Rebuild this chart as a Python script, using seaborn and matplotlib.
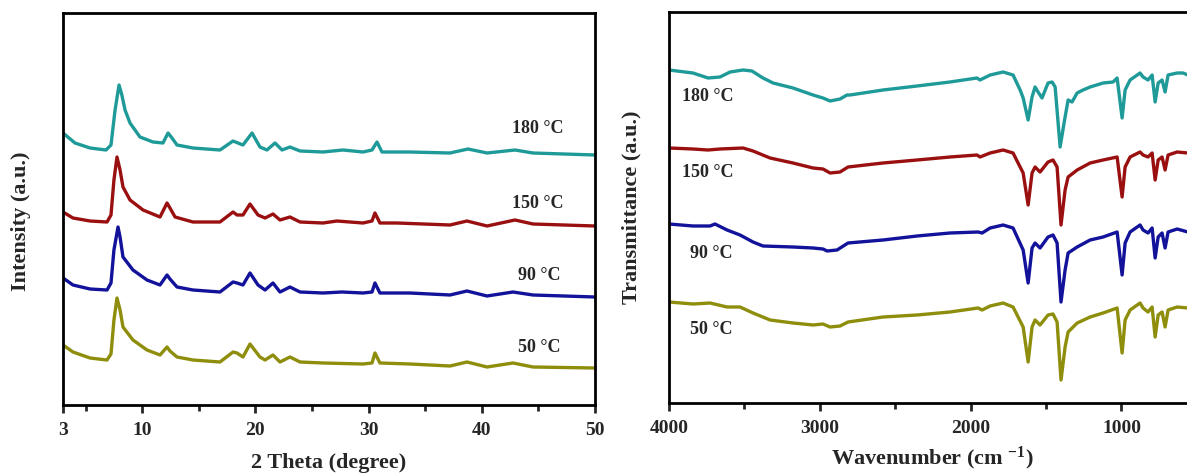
import matplotlib
matplotlib.use("Agg")
import matplotlib.pyplot as plt
import seaborn as sns
import pandas as pd
from matplotlib.ticker import FixedLocator

# ---------------- XRD data (2 theta in degree, intensity in a.u.) ----------------
xrd_labels = ["180 °C", "150 °C", "90 °C", "50 °C"]

xrd_180_x = [3.0, 4.06, 5.39, 6.8, 7.24, 7.6, 7.95, 8.2, 8.48, 8.92, 9.8, 10.95, 11.83, 12.28, 12.63,
             13.07, 14.48, 16.87, 18.02, 18.9, 19.7, 20.4, 21.02, 21.73, 22.35, 23.05, 23.94, 25.97,
             27.73, 29.5, 30.3, 30.74, 31.18, 33.65, 37.19, 38.78, 40.46, 42.93, 44.52, 50.0]
xrd_180_y = [272, 262, 257, 255, 260, 295, 320, 310, 295, 282, 268, 263, 262, 272, 267,
             260, 257, 255, 264, 260, 272, 258, 255, 262, 255, 258, 254, 253,
             255, 253, 255, 263, 253, 253, 252, 256, 252, 255, 252, 250]

xrd_150_x = [3.0, 3.88, 5.39, 6.89, 7.24, 7.5, 7.77, 8.04, 8.3, 8.92, 10.07, 11.57, 12.19, 12.45,
             12.9, 14.48, 16.87, 18.02, 18.37, 18.9, 19.52, 20.23, 20.85, 21.55, 22.17, 23.05,
             23.94, 25.97, 27.2, 29.5, 30.3, 30.56, 31.0, 32.5, 37.19, 38.69, 40.46, 42.93, 44.52, 50.0]
xrd_150_y = [193, 187, 184, 183, 190, 225, 248, 235, 218, 205, 195, 188, 202, 197,
             188, 183, 183, 193, 190, 190, 201, 190, 187, 191, 185, 188,
             183, 182, 184, 182, 184, 192, 182, 182, 180, 184, 179, 185, 181, 179]

xrd_90_x = [3.0, 3.88, 5.39, 6.89, 7.24, 7.5, 7.86, 8.04, 8.3, 9.18, 10.42, 11.57, 12.19, 12.45,
            13.07, 14.48, 16.87, 18.02, 18.37, 18.9, 19.52, 20.23, 20.85, 21.55, 22.17, 23.05,
            23.94, 25.97, 27.65, 29.5, 30.3, 30.56, 31.0, 33.65, 37.19, 38.69, 40.46, 42.75, 44.52, 50.0]
xrd_90_y = [127, 120, 116, 115, 122, 155, 178, 168, 148, 135, 125, 120, 130, 126,
            118, 115, 113, 123, 122, 120, 132, 120, 115, 122, 113, 118,
            113, 112, 113, 112, 113, 122, 112, 112, 110, 114, 109, 113, 110, 108]

xrd_50_x = [3.0, 3.88, 5.39, 6.89, 7.24, 7.5, 7.77, 8.04, 8.3, 9.18, 10.42, 11.57, 12.19, 12.45,
            13.07, 14.48, 16.87, 18.02, 18.37, 18.9, 19.52, 20.4, 20.85, 21.55, 22.17, 23.05,
            23.94, 25.97, 29.5, 30.3, 30.56, 31.0, 33.65, 37.19, 38.69, 40.46, 42.75, 44.52, 50.0]
xrd_50_y = [60, 53, 47, 45, 51, 85, 107, 95, 78, 65, 55, 50, 58, 54,
            48, 45, 43, 53, 52, 48, 61, 48, 45, 50, 43, 48,
            43, 42, 41, 42, 52, 42, 41, 39, 43, 38, 42, 38, 37]

xrd_ticks = [3, 10, 20, 30, 40, 50]

# ---------------- FTIR data (wavenumber in cm-1, transmittance in a.u.) ----------------
ftir_labels = ["180 °C", "150 °C", "90 °C", "50 °C"]

ftir_180_x = [4000, 3841, 3741, 3662, 3595, 3509, 3450, 3377, 3310, 3178, 3045, 2979, 2932, 2866,
              2820, 2800, 2581, 2355, 2137, 1958, 1938, 1871, 1785, 1719, 1672, 1652, 1619, 1593,
              1573, 1553, 1527, 1487, 1460, 1440, 1407, 1374, 1354, 1328, 1294, 1255, 1208, 1122,
              1056, 1029, 996, 976, 943, 877, 857, 824, 797, 777, 757, 731, 711, 691, 631, 592, 560]
ftir_180_y = [333, 330, 325, 326, 331, 333, 332, 325, 320, 315, 308, 305, 302, 304,
              308, 308, 313, 317, 321, 325, 323, 328, 331, 328, 313, 305, 283, 306,
              316, 311, 305, 320, 321, 316, 256, 286, 303, 301, 310, 313, 316, 320,
              321, 325, 285, 313, 323, 330, 326, 323, 328, 301, 320, 323, 311, 328, 330, 330, 328]

ftir_150_x = [4000, 3841, 3741, 3662, 3509, 3443, 3330, 3178, 3045, 2979, 2932, 2866, 2813, 2581,
              2355, 2137, 1958, 1938, 1871, 1785, 1719, 1652, 1619, 1593, 1573, 1540, 1487, 1454,
              1427, 1401, 1374, 1354, 1294, 1208, 1122, 1029, 996, 976, 943, 877, 857, 824, 797,
              777, 757, 731, 711, 691, 631, 560]
ftir_150_y = [255, 254, 253, 254, 255, 252, 245, 240, 235, 234, 230, 231, 236, 240,
              243, 246, 248, 246, 250, 253, 250, 230, 198, 230, 236, 231, 241, 243,
              236, 178, 213, 226, 233, 240, 243, 246, 206, 236, 246, 251, 248, 246, 250,
              223, 243, 246, 233, 248, 251, 250]

ftir_90_x = [4000, 3841, 3728, 3695, 3615, 3529, 3443, 3377, 3178, 3045, 2979, 2952, 2886, 2813,
             2581, 2355, 2137, 1951, 1924, 1871, 1785, 1719, 1652, 1619, 1593, 1573, 1540, 1487,
             1454, 1427, 1401, 1374, 1354, 1294, 1208, 1122, 1029, 996, 976, 943, 877, 857, 824,
             797, 777, 757, 731, 711, 691, 631, 560]
ftir_90_y = [179, 177, 177, 179, 173, 168, 161, 157, 156, 155, 154, 152, 153, 160,
             163, 167, 170, 171, 170, 175, 178, 175, 153, 120, 155, 160, 155, 166,
             168, 160, 101, 133, 150, 156, 163, 166, 171, 128, 160, 171, 178, 173, 170,
             175, 145, 166, 170, 155, 171, 174, 171]

ftir_50_x = [4000, 3841, 3728, 3615, 3529, 3443, 3330, 3178, 3045, 2979, 2932, 2866, 2813, 2581,
             2355, 2137, 1951, 1924, 1871, 1785, 1719, 1652, 1619, 1593, 1573, 1540, 1487, 1454,
             1427, 1401, 1374, 1354, 1294, 1208, 1122, 1029, 996, 976, 943, 877, 857, 824, 797,
             777, 757, 731, 711, 691, 631, 560]
ftir_50_y = [101, 99, 100, 96, 96, 90, 83, 80, 78, 79, 76, 77, 81, 86,
             88, 91, 95, 93, 97, 100, 96, 76, 41, 76, 83, 78, 88, 89,
             81, 23, 56, 71, 80, 86, 90, 95, 50, 83, 93, 100, 95, 91, 96,
             66, 88, 91, 76, 93, 96, 95]

ftir_ticks = [4000, 3000, 2000, 1000]

colors = ["#1e9a98", "#9a1010", "#12129a", "#8e8e0c"]

# ---------------- styling ----------------
sns.set_theme(style="ticks")
plt.rcParams["font.family"] = ["Liberation Serif", "DejaVu Serif"]
plt.rcParams["font.weight"] = "bold"
plt.rcParams["mathtext.fontset"] = "custom"
plt.rcParams["mathtext.rm"] = "Liberation Serif:bold"
plt.rcParams["mathtext.bf"] = "Liberation Serif:bold"
plt.rcParams["mathtext.default"] = "bf"

W, H = 1187, 474
fig = plt.figure(figsize=(W / 100, H / 100), dpi=100)
ax1 = fig.add_axes([63 / W, (H - 405) / H, 532 / W, 392 / H])
ax2 = fig.add_axes([669 / W, (H - 403) / H, 543 / W, 391 / H])

# XRD
xrd_x = [xrd_180_x, xrd_150_x, xrd_90_x, xrd_50_x]
xrd_y = [xrd_180_y, xrd_150_y, xrd_90_y, xrd_50_y]
for lab, xs, ys, c in zip(xrd_labels, xrd_x, xrd_y, colors):
    df = pd.DataFrame({"two_theta": xs, "intensity": ys})
    sns.lineplot(data=df, x="two_theta", y="intensity", ax=ax1, color=c, lw=2.4,
                 estimator=None, sort=False)

ax1.set_xlim(3, 50)
ax1.set_ylim(0, 392)
ax1.xaxis.set_major_locator(FixedLocator(xrd_ticks))
ax1.xaxis.set_minor_locator(FixedLocator([5, 15, 25, 35, 45]))
ax1.set_yticks([])
ax1.set_xlabel("2 Theta (degree)", fontsize=16, fontweight="bold")
ax1.xaxis.set_label_coords(0.5, -0.122)
ax1.xaxis.label.set_va("top")
ax1.set_ylabel("Intensity (a.u.)", fontsize=16, fontweight="bold")
ax1.yaxis.set_label_coords(-0.06, 0.47)

xrd_label_pos = [(44.9, 277), (44.9, 202), (45.1, 130), (45.1, 58)]
for lab, (tx, ty) in zip(xrd_labels, xrd_label_pos):
    ax1.text(tx, ty, lab, fontsize=13, fontweight="bold", ha="center", va="center")

# FTIR
ftir_x = [ftir_180_x, ftir_150_x, ftir_90_x, ftir_50_x]
ftir_y = [ftir_180_y, ftir_150_y, ftir_90_y, ftir_50_y]
for lab, xs, ys, c in zip(ftir_labels, ftir_x, ftir_y, colors):
    df = pd.DataFrame({"wavenumber": xs, "transmittance": ys})
    sns.lineplot(data=df, x="wavenumber", y="transmittance", ax=ax2, color=c, lw=2.4,
                 estimator=None, sort=False)

ax2.set_xlim(4000, 400)
ax2.set_ylim(0, 391)
ax2.xaxis.set_major_locator(FixedLocator(ftir_ticks))
ax2.xaxis.set_minor_locator(FixedLocator([3500, 2500, 1500, 500]))
ax2.set_yticks([])
ax2.set_xlabel(r"Wavenumber (cm $^{-1}$)", fontsize=16, fontweight="bold")
ax2.xaxis.set_label_coords(0.485, -0.108)
ax2.xaxis.label.set_va("top")
ax2.set_ylabel("Transmittance (a.u.)", fontsize=16, fontweight="bold")
ax2.yaxis.set_label_coords(-0.05, 0.5)

ftir_label_pos = [(3740, 306), (3740, 230), (3720, 150), (3720, 73)]
for lab, (tx, ty) in zip(ftir_labels, ftir_label_pos):
    ax2.text(tx, ty, lab, fontsize=13, fontweight="bold", ha="center", va="center")

for ax in (ax1, ax2):
    for sp in ax.spines.values():
        sp.set_visible(True)
        sp.set_linewidth(2)
        sp.set_color("black")
    ax.tick_params(axis="x", which="major", direction="out", length=6, width=2,
                   labelsize=14, pad=6)
    ax.tick_params(axis="x", which="minor", direction="out", length=4, width=2)
    for t in ax.get_xticklabels():
        t.set_fontweight("bold")
    ax.set_facecolor("white")

fig.savefig("out.png", dpi=100, facecolor="white")
